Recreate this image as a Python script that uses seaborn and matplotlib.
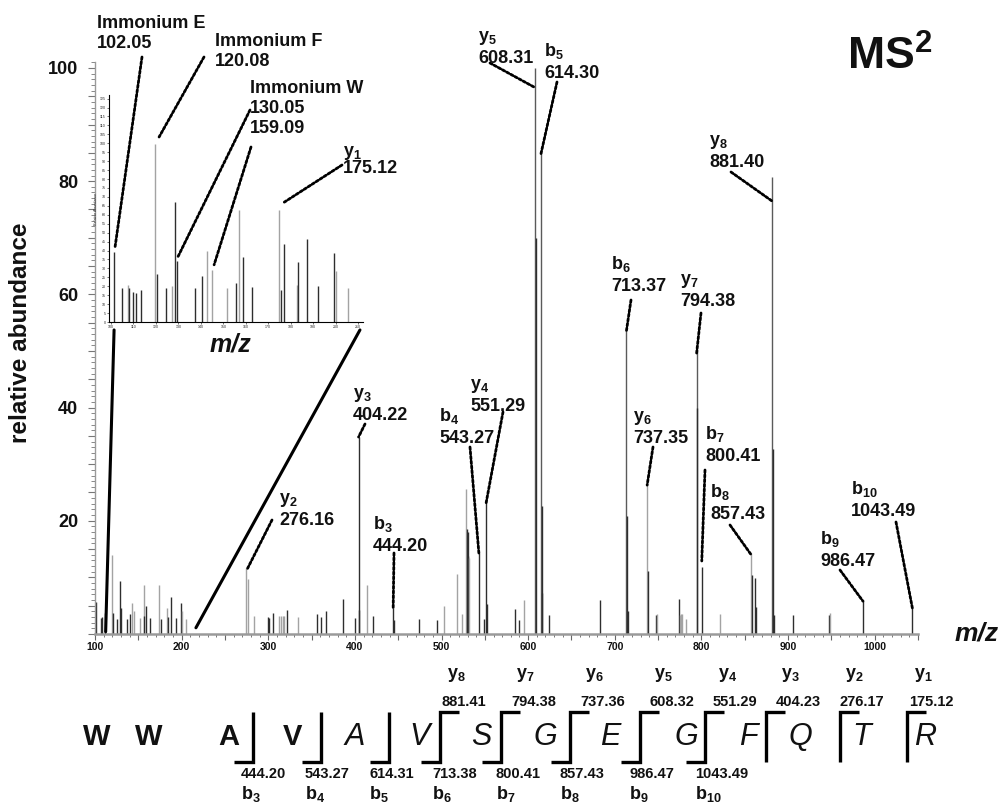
import numpy as np
import pandas as pd
import matplotlib
matplotlib.use("Agg")
import matplotlib.pyplot as plt
import seaborn as sns
from matplotlib.ticker import MultipleLocator, FuncFormatter
from matplotlib.patches import ConnectionPatch
from matplotlib.lines import Line2D

# ---------------- data ----------------
# main spectrum (m/z, relative abundance, tone d=dark g=gray)
main_mz = [101.2, 106.5, 108.4, 111.5, 119.6, 120.8, 125.8, 128.5, 129.7, 137.4,
           140.9, 143.2, 145.1, 152.4, 156.2, 157.0, 159.0, 163.6, 174.2, 176.5,
           182.6, 183.8, 187.3, 193.0, 199.2, 200.4, 205.0,
           273.8, 276.16, 283.0, 300.2, 301.2, 306.0, 312.5, 315.0, 317.0, 318.5,
           321.7, 334.0, 356.4, 361.0, 366.8, 386.5, 400.4, 404.22, 405.2, 414.3,
           421.0, 444.20, 445.5, 473.5, 494.3, 502.3, 518.0, 524.2, 528.4, 529.2,
           530.0, 530.7, 531.9, 543.27, 548.5, 551.29, 552.3, 585.0, 589.0, 595.0,
           608.31, 609.3, 614.30, 615.5, 616.3, 624.2, 683.0, 713.37, 714.3, 715.2,
           737.35, 738.0, 748.0, 748.8, 773.8, 775.4, 776.5, 777.8, 782.0, 794.38,
           795.2, 800.41, 821.1, 857.43, 858.3, 862.0, 863.2, 881.40, 882.2, 884.0,
           905.7, 947.3, 948.2, 986.47, 1043.49]
main_int = [5.6, 2.9, 3.0, 3.7, 13.9, 3.7, 2.7, 9.3, 4.6, 2.7,
            3.6, 5.5, 4.1, 2.8, 8.7, 3.1, 5.0, 2.8, 8.6, 2.6,
            4.6, 3.0, 6.5, 2.8, 5.4, 4.0, 2.7,
            11.6, 9.7, 3.2, 3.0, 2.9, 3.7, 3.1, 3.1, 3.2, 3.2,
            4.3, 3.0, 3.5, 3.0, 4.0, 6.1, 2.9, 34.8, 4.3, 8.7,
            3.2, 4.6, 2.5, 2.6, 2.5, 4.9, 10.6, 3.5, 25.6, 18.6,
            18.0, 13.7, 13.5, 14.3, 2.6, 23.7, 5.3, 4.5, 2.5, 6.0,
            100.0, 70.0, 85.2, 22.6, 7.2, 3.4, 6.0, 53.6, 20.9, 4.0,
            26.9, 11.2, 3.4, 3.6, 6.2, 3.3, 3.5, 3.6, 2.6, 50.3,
            39.9, 11.9, 3.5, 14.3, 10.4, 9.9, 4.8, 80.7, 32.6, 3.4,
            3.3, 3.3, 3.7, 6.0, 4.6]
main_tone = list("ddddgddddd" "dggggdddgd" "gddddgg"
                 "gggdddgggg" "dgdddddddg" "dddddggggd" "ddgddddddg"
                 "mdmddddmdd" "gddgdggggm" "ddggdddmdd" "ddgdd")

# inset (m/z 100-210, relative abundance scaled to base peak 120.08)
inset_mz = [101.5, 105.0, 107.6, 108.2, 109.8, 111.3, 113.5, 119.4, 120.6, 124.6,
            127.0, 128.6, 129.5, 137.2, 140.6, 142.7, 144.9, 151.6, 155.7, 156.8,
            158.9, 162.9, 175.0, 175.9, 177.1, 182.7, 183.3, 187.3, 192.2, 199.3,
            200.4, 205.4]
inset_int = [39.1, 19.0, 20.9, 18.8, 16.9, 16.2, 18.1, 99.6, 26.8, 19.0,
             19.9, 66.9, 34.1, 19.0, 25.9, 39.9, 29.2, 19.2, 22.0, 62.8,
             36.3, 19.6, 62.4, 18.1, 43.8, 20.9, 33.3, 46.6, 20.3, 38.7,
             28.7, 19.0]
inset_tone = list("ddgddddgdd" "gddddgggdg" "ddgddgdddd" "gg")

# sequence
sequence = list("WWAVAVSGEGFQTR")
b_ions = ["b$_3$", "b$_4$", "b$_5$", "b$_6$", "b$_7$", "b$_8$", "b$_9$", "b$_{10}$"]
b_mz = ["444.20", "543.27", "614.31", "713.38", "800.41", "857.43", "986.47", "1043.49"]
y_ions = ["y$_8$", "y$_7$", "y$_6$", "y$_5$", "y$_4$", "y$_3$", "y$_2$", "y$_1$"]
y_mz = ["881.41", "794.38", "737.36", "608.32", "551.29", "404.23", "276.17", "175.12"]

# ---------------- style ----------------
sns.set_theme(style="white")
plt.rcParams['font.family'] = ['Liberation Sans', 'DejaVu Sans']
plt.rcParams['mathtext.default'] = 'regular'

W, H = 1002, 805
fig = plt.figure(figsize=(W / 100, H / 100), dpi=100)
fig.patch.set_facecolor('white')

def fx(px):
    return px / W

def fy(py):
    return 1 - py / H

TONES = {'d': '#2e2e2e', 'g': '#a3a3a3', 'm': '#5a5a5a'}
BLACK = '#111111'

# ---------------- main axes ----------------
ax = fig.add_axes([fx(95), fy(634), (918 - 95) / W, (634 - 62.3) / H])
df = pd.DataFrame({'mz': main_mz, 'intensity': main_int, 'tone': main_tone})
ax.vlines(df.mz, 0, df.intensity, colors=[TONES[t] for t in df.tone], lw=1.0)
ax.set_xlim(100, 1050)
ax.set_ylim(0, 101)
ax.set_facecolor('none')
sns.despine(ax=ax, top=True, right=True)
for s in ['left', 'bottom']:
    ax.spines[s].set_color('#9a9a9a')
ax.spines['left'].set_linewidth(1.0)
ax.spines['bottom'].set_linewidth(1.8)

ax.yaxis.set_major_locator(MultipleLocator(5))
ax.yaxis.set_minor_locator(MultipleLocator(1))
ax.yaxis.set_major_formatter(FuncFormatter(lambda v, p: f"{int(round(v))}" if (round(v) % 20 == 0 and v > 0) else ""))
ax.xaxis.set_major_locator(MultipleLocator(50))
ax.xaxis.set_minor_locator(MultipleLocator(10))
ax.xaxis.set_major_formatter(FuncFormatter(lambda v, p: f"{int(round(v))}" if round(v) % 100 == 0 else ""))
ax.tick_params(axis='y', which='major', length=5, width=0.8, color='#777777', pad=7,
               labelsize=13, labelcolor=BLACK, left=True)
ax.tick_params(axis='y', which='minor', length=3, width=0.7, color='#888888', left=True)
ax.tick_params(axis='x', which='major', length=4, width=0.8, color='#666666', pad=2,
               labelsize=7.5, labelcolor=BLACK, bottom=True)
ax.tick_params(axis='x', which='minor', length=2.2, width=0.7, color='#777777', bottom=True)
for t in ax.get_yticklabels() + ax.get_xticklabels():
    t.set_fontweight('bold')

fig.text(fx(21), fy(333), "relative abundance", rotation=90, ha='center', va='center',
         fontsize=17.5, fontweight='bold', color=BLACK)
fig.text(fx(955), fy(633), "m/z", ha='left', va='center', fontsize=19,
         fontweight='bold', fontstyle='italic', color=BLACK)
fig.text(fx(847), fy(36), "MS$^{2}$", ha='left', va='top', fontsize=32,
         fontweight='bold', color=BLACK)

# ---------------- inset ----------------
axi = fig.add_axes([fx(109), fy(322), 254 / W, (322 - 95) / H])
axi.vlines(inset_mz, 0, inset_int, colors=[TONES[t] for t in inset_tone], lw=1.0)
axi.set_xlim(99.1, 212.2)
axi.set_ylim(0, 127)
axi.set_facecolor('none')
sns.despine(ax=axi, top=True, right=True)
for s in ['left', 'bottom']:
    axi.spines[s].set_color('black')
    axi.spines[s].set_linewidth(0.8)
axi.xaxis.set_major_locator(MultipleLocator(10))
axi.xaxis.set_minor_locator(MultipleLocator(2))
axi.yaxis.set_major_locator(MultipleLocator(5))
axi.tick_params(axis='both', which='major', length=1.5, width=0.4, labelsize=2.6, pad=0.8,
                bottom=True, left=True, color='black')
axi.tick_params(axis='x', which='minor', length=0.8, width=0.3, bottom=True)
axi.set_ylabel("Relative Abundance", fontsize=2.6, labelpad=1)
fig.text(fx(210), fy(344), "m/z", ha='left', va='center', fontsize=18,
         fontweight='bold', fontstyle='italic', color=BLACK)

for (xa, ya), (xb, yb) in [((112.3, 0.4), (0.02, -0.035)), ((216.5, 1.1), (0.988, -0.035))]:
    con = ConnectionPatch(xyA=(xa, ya), coordsA=ax.transData, xyB=(xb, yb),
                          coordsB=axi.transAxes, lw=2.2, color='black')
    fig.add_artist(con)

# ---------------- annotations ----------------
DOT = dict(arrowstyle='-', linestyle=(0, (0.9, 0.8)), lw=2.0, color='black',
           shrinkA=0, shrinkB=0)

def label(lines, left, top_first, gap=20, fs=13):
    for i, s in enumerate(lines):
        fig.text(fx(left), fy(top_first + i * gap), s, ha='left', va='top',
                 fontsize=fs, fontweight='bold', color=BLACK)

def ion_label(ion, num, left, numtop, base_off=9, fs=13):
    fig.text(fx(left), fy(numtop - base_off), ion, ha='left', va='baseline', fontsize=fs,
             fontweight='bold', color=BLACK)
    fig.text(fx(left), fy(numtop), num, ha='left', va='top', fontsize=fs,
             fontweight='bold', color=BLACK)

def dotted(axes, start_px, end_data):
    axes.annotate('', xy=end_data, xycoords='data',
                  xytext=(fx(start_px[0]), fy(start_px[1])), textcoords='figure fraction',
                  arrowprops=DOT, annotation_clip=False)

# inset labels
label(["Immonium E", "102.05"], 97, 15)
label(["Immonium F", "120.08"], 215, 33)
label(["Immonium W", "130.05", "159.09"], 250, 80)
ion_label("y$_1$", "175.12", 343, 160, base_off=4)
dotted(axi, (142, 57), (101.8, 42))
dotted(axi, (204, 57), (121.4, 103.5))
dotted(axi, (250, 110), (129.8, 36.5))
dotted(axi, (251, 147), (145.9, 32))
dotted(axi, (342, 165), (176.6, 66.6))

# main labels: (ion, number, left px, number top px, dotted start px, dotted end data)
main_labels = [
    ("y$_5$", "608.31", 478, 50, (490, 63), (608.31, 96.5)),
    ("b$_5$", "614.30", 544, 65, (557, 82), (614.30, 84.5)),
    ("y$_8$", "881.40", 709, 154, (731, 172), (881.40, 76.5)),
    ("b$_6$", "713.37", 611, 278, (631, 300), (713.37, 53.5)),
    ("y$_7$", "794.38", 680, 293, (701, 313), (794.38, 49.5)),
    ("y$_3$", "404.22", 353, 407, (365, 424), (404.22, 34.8)),
    ("y$_4$", "551.29", 470, 398, (503, 412), (551.29, 23.0)),
    ("b$_4$", "543.27", 439, 430, (470, 447), (543.27, 14.0)),
    ("y$_6$", "737.35", 633, 430, (653, 447), (737.35, 26.3)),
    ("b$_7$", "800.41", 705, 448, (705, 470), (800.41, 12.9)),
    ("b$_8$", "857.43", 710, 506, (730, 525), (857.43, 14.0)),
    ("b$_{10}$", "1043.49", 851, 503, (896, 522), (1043.49, 4.6)),
    ("b$_9$", "986.47", 820, 553, (840, 570), (986.47, 5.8)),
    ("y$_2$", "276.16", 279, 512, (272, 520), (276.16, 11.6)),
    ("b$_3$", "444.20", 373, 538, (394, 553), (444.20, 4.6)),
]
for ion, num, left, top, start, end in main_labels:
    ion_label(ion, num, left, top)
    dotted(ax, start, end)

# ---------------- sequence ----------------
letter_x = [97, 149, 229, 292, 355, 420, 481, 545, 610, 686, 748, 800, 862, 925]
for i, (ch, xc) in enumerate(zip(sequence, letter_x)):
    if i < 4:
        fig.text(fx(xc), fy(737), ch, ha='center', va='center', fontsize=21,
                 fontweight='bold', color=BLACK)
    else:
        fig.text(fx(xc), fy(737), ch, ha='center', va='center', fontsize=22,
                 fontstyle='italic', color=BLACK)

cleave_x = [253, 321, 389, 440, 501, 570, 640, 705, 766, 840, 907]  # sites 3..13
TOP, BOT, ARM = 712, 762, 19
for k, vx in enumerate(cleave_x):
    site = k + 3
    has_b = site <= 10
    has_y = site >= 6
    xs, ys = [], []
    if has_b:
        xs += [vx - ARM, vx]
        ys += [BOT, BOT]
    else:
        xs += [vx]
        ys += [BOT]
    xs += [vx]
    ys += [TOP]
    if has_y:
        xs += [vx + ARM]
        ys += [TOP]
    fig.add_artist(Line2D([fx(v) for v in xs], [fy(v) for v in ys], transform=fig.transFigure,
                          lw=2.4, color='black', solid_joinstyle='miter', solid_capstyle='butt'))

b_left = [241, 305, 369, 432, 496, 560, 629, 695]
for ion, num, xl in zip(b_ions, b_mz, b_left):
    fig.text(fx(xl), fy(774), num, ha='left', va='center', fontsize=10.5,
             fontweight='bold', color=BLACK)
    fig.text(fx(xl), fy(799), ion, ha='left', va='baseline', fontsize=13,
             fontweight='bold', color=BLACK)

y_left = [442, 511, 580, 649, 713, 776, 840, 909]
for ion, num, xl in zip(y_ions, y_mz, y_left):
    fig.text(fx(xl), fy(702), num, ha='left', va='center', fontsize=10.5,
             fontweight='bold', color=BLACK)
    fig.text(fx(xl + 5), fy(678), ion, ha='left', va='baseline', fontsize=13,
             fontweight='bold', color=BLACK)

fig.savefig("out.png", dpi=100, facecolor='white')
